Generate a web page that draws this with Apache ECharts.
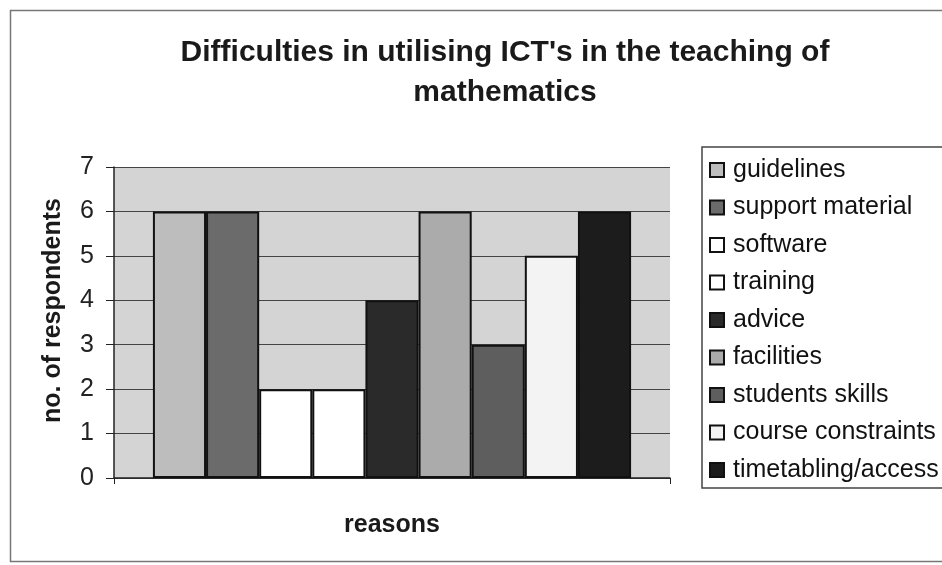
<!DOCTYPE html>
<html>
<head>
<meta charset="utf-8">
<script src="https://cdn.jsdelivr.net/npm/echarts@6/dist/echarts.min.js"></script>
<style>
  html, body { margin: 0; padding: 0; background: #fff; }
  #chart { width: 942px; height: 565px; }
</style>
</head>
<body>
<div id="chart"></div>
<script>
const reasons = ["guidelines", "support material", "software", "training", "advice",
  "facilities", "students skills", "course constraints", "timetabling/access"];
const respondents = [6, 6, 2, 2, 4, 6, 3, 5, 6];
const fills = ["#bdbdbd", "#6b6b6b", "#ffffff", "#ffffff", "#2a2a2a",
  "#ababab", "#5e5e5e", "#f3f3f3", "#1c1c1c"];
const yTicks = [0, 1, 2, 3, 4, 5, 6, 7];

const font = "Liberation Sans, Arial, sans-serif";

const chart = echarts.init(document.getElementById("chart"));

chart.setOption({
  animation: false,
  backgroundColor: "#fff",
  title: {
    text: "Difficulties in utilising ICT's in the teaching of\nmathematics",
    left: 505,
    top: 33,
    padding: 0,
    textAlign: "center",
    textStyle: { fontFamily: font, fontSize: 30, fontWeight: "bold", color: "#1a1a1a", lineHeight: 40 },
  },
  legend: {
    orient: "vertical",
    left: 709,
    top: 157,
    padding: 0,
    itemWidth: 14,
    itemHeight: 14,
    itemGap: 11.5,
    icon: "rect",
    textStyle: { fontFamily: font, fontSize: 25, color: "#111", lineHeight: 26, padding: [0, 0, 0, 4] },
    data: reasons,
  },
  grid: { left: 114, right: 272, top: 167, bottom: 87, show: true, backgroundColor: "#d4d4d4", borderWidth: 0 },
  xAxis: {
    type: "category",
    data: [""],
    name: "reasons",
    nameLocation: "middle",
    nameGap: 35,
    nameTextStyle: { fontFamily: font, fontSize: 25, fontWeight: "bold", color: "#1a1a1a" },
    axisLine: { lineStyle: { color: "#222", width: 1.5 } },
    axisTick: { show: true, length: 6, lineStyle: { color: "#222" } },
    axisLabel: { show: false },
  },
  yAxis: {
    type: "value",
    min: yTicks[0],
    max: yTicks[yTicks.length - 1],
    interval: 1,
    name: "no. of respondents",
    nameLocation: "middle",
    nameGap: 48,
    nameTextStyle: { fontFamily: font, fontSize: 25, fontWeight: "bold", color: "#1a1a1a", padding: [0, 0, 0, 24] },
    axisLine: { show: true, lineStyle: { color: "#222", width: 1.5 } },
    axisTick: { show: true, length: 8, lineStyle: { color: "#222" } },
    axisLabel: { fontFamily: font, fontSize: 25, color: "#222", margin: 20 },
    splitLine: { lineStyle: { color: "#444", width: 1 } },
  },
  series: reasons.map((name, i) => ({
    name: name,
    type: "bar",
    data: [respondents[i]],
    barGap: "0%",
    barCategoryGap: "14%",
    itemStyle: { color: fills[i], borderColor: "#111", borderWidth: 2 },
  })),
  graphic: [
    {
      type: "rect",
      shape: { x: 10.5, y: 10.5, width: 1000, height: 551 },
      style: { fill: null, stroke: "#777", lineWidth: 1.5 },
      silent: true,
    },
    {
      type: "rect",
      shape: { x: 702, y: 147, width: 300, height: 341 },
      style: { fill: null, stroke: "#444", lineWidth: 1.5 },
      silent: true,
    },
  ],
});
</script>
</body>
</html>
